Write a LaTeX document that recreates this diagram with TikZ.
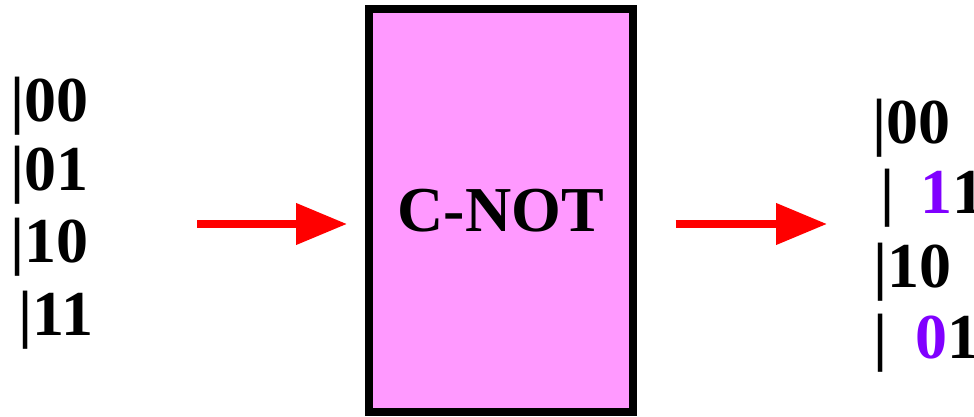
\documentclass[tikz,border=0pt]{standalone}
\usepackage{fontspec}
\setmainfont{Liberation Serif}
\usepackage{tikz}
\usetikzlibrary{positioning, arrows.meta, calc}
\definecolor{gatepink}{HTML}{FF99FF}
\definecolor{bitviolet}{HTML}{8000FF}

\begin{document}
\begin{tikzpicture}[
			x=1pt, y=-1pt,
			ket/.style={anchor=base west, inner sep=0pt, font=\fontsize{64}{70}\selectfont\bfseries},
			gatebox/.style={draw, line width=8pt, fill=gatepink, minimum width=263.5pt, minimum height=402pt, inner sep=0pt, font=\fontsize{64}{70}\selectfont\bfseries},
			redarrow/.style={draw=red, line width=7.5pt, -{Triangle[length=51pt, width=40pt]}, red}
			]
			\useasboundingbox (0,0) rectangle (974,417);
			
			% Porta C-NOT
			\node[gatebox] (gate) at (500.75,210.5) {C-NOT};
			
			% Stati di input
			\node[ket] (i1) at (10.5,122) {|00};
			\node[ket] (i2) at (10.5,190) {|01};
			\node[ket] (i3) at (10.5,262) {|10};
			\node[ket] (i4) at (18.5,335) {|11};
			
			% Stati di output
			\node[ket] (o1) at (872.5,143) {|00};
			\node[ket] (o2) at (880.5,213) {| \hspace{10pt}{\color{bitviolet}1}1};
			\node[ket] (o3) at (873.5,287) {|10};
			\node[ket] (o4) at (873.5,358) {| \hspace{12pt}{\color{bitviolet}0}1};
			
			% Frecce
			\coordinate (ins) at (197,224);
			\coordinate (outs) at (827,224);
			\draw[redarrow, shorten >=18pt] (ins) -- (ins -| gate.west);
			\draw[redarrow, shorten <=39pt] (outs -| gate.east) -- (outs);
			
		\end{tikzpicture}
\end{document}
